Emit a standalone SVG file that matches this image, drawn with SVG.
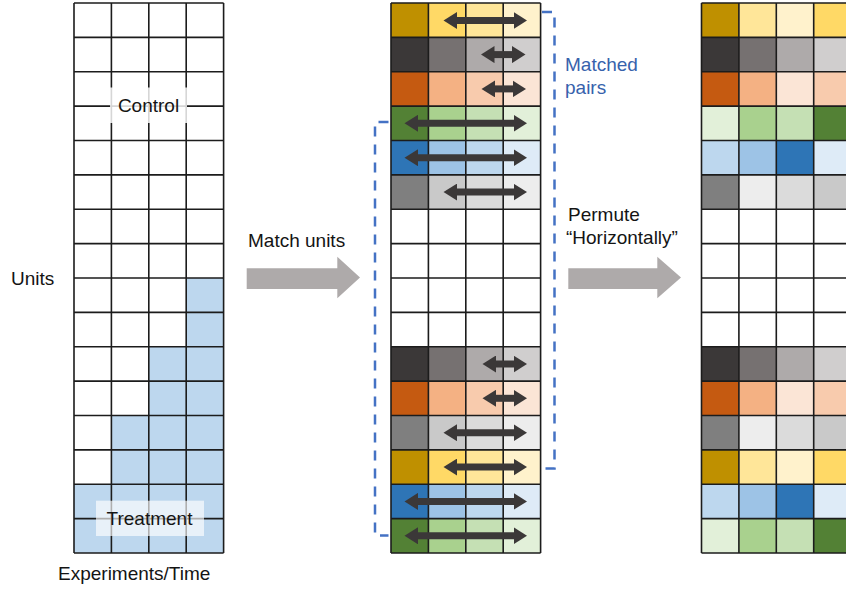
<svg xmlns="http://www.w3.org/2000/svg" xmlns:xlink="http://www.w3.org/1999/xlink" width="846" height="590" viewBox="0 0 846 590">
<style>
.t{font-family:"Liberation Sans",Arial,sans-serif;font-size:19px;fill:#141414}
.tb{font-family:"Liberation Sans",Arial,sans-serif;font-size:19px;fill:#3762AC}
.grid{fill:none;stroke:#1c1c1c;stroke-width:1.6}
.g0{fill:#BF9000}.g1{fill:#FFD966}.g2{fill:#FFE699}.g3{fill:#FFF2CC}
.d0{fill:#3B3838}.d1{fill:#767171}.d2{fill:#AEAAAA}.d3{fill:#D0CECE}
.o0{fill:#C55A11}.o1{fill:#F4B183}.o2{fill:#F8CBAD}.o3{fill:#FBE5D6}
.n0{fill:#538135}.n1{fill:#A9D18E}.n2{fill:#C5E0B4}.n3{fill:#E2F0D9}
.b0{fill:#2E75B6}.b1{fill:#9DC3E6}.b2{fill:#BDD7EE}.b3{fill:#DEEBF7}
.y0{fill:#7F7F7F}.y1{fill:#C9C9C9}.y2{fill:#DBDBDB}.y3{fill:#EDEDED}
.dbl{stroke:#3B3838;stroke-width:7;marker-start:url(#ah);marker-end:url(#ah)}
.brk{fill:none;stroke:#4472C4;stroke-width:2.5;stroke-dasharray:10 8}
.blk{fill:#AEAAAA}
</style>
<defs>
<marker id="ah" markerUnits="userSpaceOnUse" viewBox="0 0 14 17" markerWidth="14" markerHeight="17" refX="0.5" refY="8.5" orient="auto-start-reverse">
<path d="M0,0 L13.5,8.5 L0,17 z" fill="#3B3838"/>
</marker>
<g id="gridlines" class="grid">
<path d="M0 3h149.6M0 37.4h149.6M0 71.75h149.6M0 106.1h149.6M0 140.5h149.6M0 174.9h149.6M0 209.25h149.6M0 243.6h149.6M0 278h149.6M0 312.4h149.6M0 346.75h149.6M0 381.1h149.6M0 415.5h149.6M0 449.9h149.6M0 484.25h149.6M0 518.6h149.6M0 553h149.6"/>
<path d="M0 3V553M37.4 3V553M74.8 3V553M112.2 3V553M149.6 3V553"/>
</g>
<g id="m-gold"><rect class="g0" width="37.4" height="34.4"/><rect class="g1" x="37.4" width="37.4" height="34.4"/><rect class="g2" x="74.8" width="37.4" height="34.4"/><rect class="g3" x="112.2" width="37.4" height="34.4"/></g>
<g id="m-dark"><rect class="d0" width="37.4" height="34.4"/><rect class="d1" x="37.4" width="37.4" height="34.4"/><rect class="d2" x="74.8" width="37.4" height="34.4"/><rect class="d3" x="112.2" width="37.4" height="34.4"/></g>
<g id="m-orange"><rect class="o0" width="37.4" height="34.4"/><rect class="o1" x="37.4" width="37.4" height="34.4"/><rect class="o2" x="74.8" width="37.4" height="34.4"/><rect class="o3" x="112.2" width="37.4" height="34.4"/></g>
<g id="m-green"><rect class="n0" width="37.4" height="34.4"/><rect class="n1" x="37.4" width="37.4" height="34.4"/><rect class="n2" x="74.8" width="37.4" height="34.4"/><rect class="n3" x="112.2" width="37.4" height="34.4"/></g>
<g id="m-blue"><rect class="b0" width="37.4" height="34.4"/><rect class="b1" x="37.4" width="37.4" height="34.4"/><rect class="b2" x="74.8" width="37.4" height="34.4"/><rect class="b3" x="112.2" width="37.4" height="34.4"/></g>
<g id="m-gray"><rect class="y0" width="37.4" height="34.4"/><rect class="y1" x="37.4" width="37.4" height="34.4"/><rect class="y2" x="74.8" width="37.4" height="34.4"/><rect class="y3" x="112.2" width="37.4" height="34.4"/></g>
<g id="p-gold"><rect class="g0" width="37.4" height="34.4"/><rect class="g2" x="37.4" width="37.4" height="34.4"/><rect class="g3" x="74.8" width="37.4" height="34.4"/><rect class="g1" x="112.2" width="37.4" height="34.4"/></g>
<g id="p-orange"><rect class="o0" width="37.4" height="34.4"/><rect class="o1" x="37.4" width="37.4" height="34.4"/><rect class="o3" x="74.8" width="37.4" height="34.4"/><rect class="o2" x="112.2" width="37.4" height="34.4"/></g>
<g id="p-green"><rect class="n3" width="37.4" height="34.4"/><rect class="n1" x="37.4" width="37.4" height="34.4"/><rect class="n2" x="74.8" width="37.4" height="34.4"/><rect class="n0" x="112.2" width="37.4" height="34.4"/></g>
<g id="p-blue"><rect class="b2" width="37.4" height="34.4"/><rect class="b1" x="37.4" width="37.4" height="34.4"/><rect class="b0" x="74.8" width="37.4" height="34.4"/><rect class="b3" x="112.2" width="37.4" height="34.4"/></g>
<g id="p-gray"><rect class="y0" width="37.4" height="34.4"/><rect class="y3" x="37.4" width="37.4" height="34.4"/><rect class="y2" x="74.8" width="37.4" height="34.4"/><rect class="y1" x="112.2" width="37.4" height="34.4"/></g>
</defs>
<rect width="846" height="590" fill="#fff"/>

<g id="grid-original">
<rect class="b2" x="186" y="278" width="37.6" height="275"/>
<rect class="b2" x="148.8" y="346.75" width="37.4" height="206.25"/>
<rect class="b2" x="111.4" y="415.5" width="37.4" height="137.5"/>
<rect class="b2" x="74" y="484.25" width="37.4" height="68.75"/>
<use xlink:href="#gridlines" x="74"/>
<g id="label-control">
<rect x="110" y="87.5" width="77" height="35.5" fill="#fff" fill-opacity="0.82"/>
<text class="t" x="148.5" y="112" text-anchor="middle">Control</text>
</g>
<g id="label-treatment">
<rect x="96" y="500.7" width="108" height="35.3" fill="#fff" fill-opacity="0.65"/>
<text class="t" x="149.5" y="525" text-anchor="middle">Treatment</text>
</g>
</g>

<g id="axis-labels">
<text class="t" x="11" y="285">Units</text>
<text class="t" x="58" y="580">Experiments/Time</text>
</g>

<g id="grid-matched">
<use xlink:href="#m-gold" x="391" y="3"/>
<use xlink:href="#m-dark" x="391" y="37.4"/>
<use xlink:href="#m-orange" x="391" y="71.75"/>
<use xlink:href="#m-green" x="391" y="106.1"/>
<use xlink:href="#m-blue" x="391" y="140.5"/>
<use xlink:href="#m-gray" x="391" y="174.9"/>
<use xlink:href="#m-dark" x="391" y="346.75"/>
<use xlink:href="#m-orange" x="391" y="381.1"/>
<use xlink:href="#m-gray" x="391" y="415.5"/>
<use xlink:href="#m-gold" x="391" y="449.9"/>
<use xlink:href="#m-blue" x="391" y="484.25"/>
<use xlink:href="#m-green" x="391" y="518.6"/>
<use xlink:href="#gridlines" x="391"/>
<g id="swap-arrows">
<line class="dbl" x1="456.5" y1="20.5" x2="514" y2="20.5"/>
<line class="dbl" x1="494" y1="54.6" x2="512.5" y2="54.6"/>
<line class="dbl" x1="494.5" y1="88.9" x2="513" y2="88.9"/>
<line class="dbl" x1="417.5" y1="123.3" x2="514" y2="123.3"/>
<line class="dbl" x1="417.5" y1="157.7" x2="514" y2="157.7"/>
<line class="dbl" x1="456.5" y1="192.1" x2="514" y2="192.1"/>
<line class="dbl" x1="495.5" y1="364" x2="514" y2="364"/>
<line class="dbl" x1="495.5" y1="398.3" x2="514" y2="398.3"/>
<line class="dbl" x1="456.5" y1="432.7" x2="514" y2="432.7"/>
<line class="dbl" x1="456.5" y1="467.1" x2="514" y2="467.1"/>
<line class="dbl" x1="417.5" y1="501.4" x2="514" y2="501.4"/>
<line class="dbl" x1="417.5" y1="535.8" x2="514" y2="535.8"/>
</g>
<path class="brk" d="M542 12H554.5V468.5H542"/>
<path class="brk" d="M388.5 122H375V535.5H388.5"/>
<g id="label-matched">
<text class="tb" x="565" y="71">Matched</text>
<text class="tb" x="565" y="94">pairs</text>
</g>
</g>

<g id="grid-permuted">
<use xlink:href="#p-gold" x="701.5" y="3"/>
<use xlink:href="#m-dark" x="701.5" y="37.4"/>
<use xlink:href="#p-orange" x="701.5" y="71.75"/>
<use xlink:href="#p-green" x="701.5" y="106.1"/>
<use xlink:href="#p-blue" x="701.5" y="140.5"/>
<use xlink:href="#p-gray" x="701.5" y="174.9"/>
<use xlink:href="#m-dark" x="701.5" y="346.75"/>
<use xlink:href="#p-orange" x="701.5" y="381.1"/>
<use xlink:href="#p-gray" x="701.5" y="415.5"/>
<use xlink:href="#p-gold" x="701.5" y="449.9"/>
<use xlink:href="#p-blue" x="701.5" y="484.25"/>
<use xlink:href="#p-green" x="701.5" y="518.6"/>
<use xlink:href="#gridlines" x="701.5"/>
</g>

<g id="connectors">
<g id="arrow-match">
<polygon class="blk" points="246.7,268.3 337.3,268.3 337.3,256.7 360,277.5 337.3,298.3 337.3,289 246.7,289"/>
<text class="t" x="248" y="247">Match units</text>
</g>
<g id="arrow-permute">
<polygon class="blk" points="568.3,268.3 657.3,268.3 657.3,256.7 681,277.5 657.3,298.3 657.3,289 568.3,289"/>
<text class="t" x="568" y="221">Permute</text>
<text class="t" x="566" y="244">“Horizontally”</text>
</g>
</g>
</svg>
